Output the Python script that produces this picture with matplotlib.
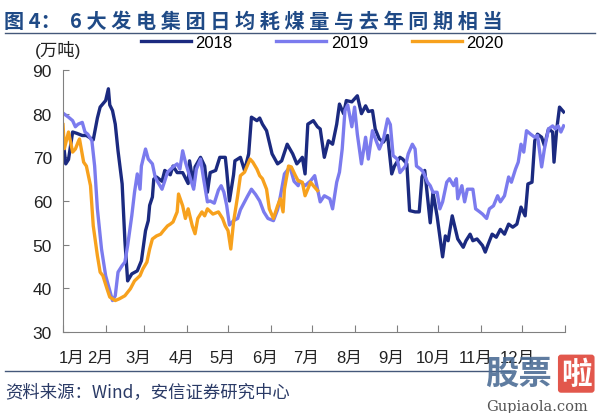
import matplotlib
matplotlib.use("Agg")
import matplotlib.pyplot as plt
from matplotlib.lines import Line2D

plt.rcParams['font.family'] = ['Liberation Sans', 'Noto Sans CJK SC', 'DejaVu Sans']

# ---------------- data (day of year, value in 万吨) ----------------
days_2018 = [0, 2, 4, 7, 10, 14, 17, 22, 25, 27, 31, 33, 34, 36, 38, 40, 43, 45, 47, 50,
             54, 57, 60, 62, 63, 65, 66, 68, 72, 74, 78, 80, 83, 87, 91, 92, 95, 96, 100, 103,
             105, 107, 111, 114, 118, 119, 121, 124, 125, 129, 132, 135, 137, 141, 143, 145, 148, 152, 156, 159,
             163, 167, 170, 172, 174, 176, 178, 182, 185, 187, 190, 193, 196, 199, 201, 204, 206, 210, 214, 217,
             220, 222, 225, 227, 230, 233, 236, 238, 239, 241, 245, 247, 250, 252, 256, 259, 261, 263, 267, 269,
             272, 276, 278, 280, 283, 285, 287, 291, 293, 296, 298, 301, 305, 307, 309, 312, 315, 318, 321, 324,
             327, 330, 333, 336, 338, 341, 343, 345, 348, 350, 353, 356, 357, 359, 361, 364]
vals_2018 = [74, 68.5, 69.5, 75.8, 75.5, 75, 75, 74, 79, 81.5, 83, 85.7, 82, 80.7, 77.6, 71.5, 63.9, 50.9, 41.7, 43.3,
             44, 46.3, 53.2, 55.5, 59, 60.9, 65, 65.5, 64.5, 67, 66, 68, 66.5, 66.5, 64, 69.2, 63.5, 67.8, 70, 68,
             62, 66.5, 67, 70, 70, 67, 60, 66, 69.2, 70, 67, 70.8, 79.2, 78.4, 79, 77.6, 76.1, 70.8, 68.5, 69.2,
             73, 70.8, 68.5, 69.2, 70, 66.2, 77.6, 78.4, 77, 76.5, 70, 73.8, 73, 77.6, 82.2, 80, 83, 82.7, 84.1, 80,
             81.8, 80.5, 80.7, 76.5, 74.2, 73.5, 75, 69.2, 66.2, 68, 70, 69.6, 68.5, 57.8, 57.5, 57.5, 65.5, 67, 55, 62,
             56.5, 47.2, 52, 50.9, 56.6, 54, 51.3, 49.4, 50.9, 52.4, 50.9, 51.3, 49.8, 48.3, 50, 52.4, 51.7, 53.5, 52.4, 54.7,
             54, 54.7, 58.6, 56.6, 63.9, 64.3, 73.8, 75.3, 74.6, 72.7, 76.5, 75.8, 68.9, 76.5, 81.5, 80.4]

days_2019 = [1, 4, 7, 9, 11, 14, 16, 18, 21, 23, 25, 28, 31, 33, 36, 38, 40, 43, 45, 47,
             50, 52, 54, 56, 57, 60, 62, 65, 67, 69, 72, 74, 76, 80, 83, 85, 87, 89, 92, 95,
             97, 100, 102, 105, 107, 110, 113, 115, 117, 119, 121, 124, 127, 129, 134, 137, 140, 143, 146, 149,
             153, 156, 158, 161, 165, 168, 171, 172, 176, 180, 183, 187, 190, 194, 196, 199, 201, 203, 205, 207,
             210, 212, 214, 217, 220, 222, 225, 228, 230, 233, 236, 238, 240, 243, 245, 249, 251, 254, 256, 257,
             260, 262, 265, 267, 269, 272, 274, 276, 279, 281, 284, 286, 287, 290, 292, 294, 298, 300, 303, 305,
             308, 310, 313, 316, 318, 321, 324, 326, 329, 331, 333, 335, 337, 340, 343, 345, 348, 350, 353, 356,
             358, 360, 362, 364]
vals_2019 = [79.9, 79.2, 78.4, 77, 77.6, 78, 75.8, 75.3, 73.8, 68, 58.2, 49, 42.9, 40.6, 37.2, 38.3, 43.7, 45.2, 46, 49.8,
             56.6, 62, 66.2, 62.7, 68, 71.9, 69.6, 68.5, 65.5, 64.3, 62.7, 64.6, 66.6, 67.8, 68.5, 67.3, 71.5, 68.9, 65.8, 62.7,
             67.3, 69.6, 65.5, 59.8, 60, 59.5, 62.5, 63.5, 62, 59, 54.5, 55.5, 56, 58, 61, 62.7, 61.5, 60, 57.5, 56,
             55.5, 58, 61, 66.2, 67.8, 64.5, 63.5, 64.6, 63.5, 64.6, 65.8, 59.8, 61.2, 60.5, 58.2, 64.3, 66.6, 71.9, 80.7, 82,
             77, 81.5, 75.3, 68.5, 74.6, 69.6, 76.1, 73.5, 71.9, 74.2, 78.8, 77.5, 70.4, 69.6, 66.5, 68, 70.8, 73, 71.9, 68,
             67.3, 66.6, 64.3, 63.5, 62, 62, 58.2, 59.8, 64.3, 65.1, 63.5, 65.1, 60.5, 63.5, 59.8, 62.7, 62.7, 58.2, 57.5, 57,
             56, 58.2, 58.9, 61.2, 59.8, 61.2, 65.5, 64.3, 67.3, 68.9, 73, 71.2, 76.1, 75.3, 74.6, 75, 67.8, 71.9, 76.5, 77.2,
             76.5, 77.2, 75.8, 77.2]

days_2020 = [0, 1, 4, 7, 9, 11, 12, 15, 17, 20, 22, 25, 27, 29, 32, 34, 38, 41, 45, 49,
             52, 56, 58, 61, 63, 65, 68, 71, 73, 76, 78, 80, 83, 84, 87, 89, 91, 94, 96, 98,
             101, 103, 105, 109, 113, 116, 118, 120, 122, 124, 127, 129, 132, 136, 138, 141, 143, 145, 148, 150,
             153, 156, 158, 160, 161, 164, 166, 169, 171, 174, 176, 180, 182, 185]
vals_2020 = [77.5, 72, 75.8, 71.2, 71.9, 73.5, 74.2, 68.9, 68, 63.5, 54.3, 47.5, 43.7, 42.9, 39.9, 38, 37.2, 37.6, 38.3, 39.9,
             41.7, 42.9, 44.4, 46, 49, 51.3, 52, 52.4, 53.2, 54.3, 54.7, 55.2, 57.5, 61.6, 58.9, 56, 58.2, 54.3, 52.5, 56,
             57.5, 56.6, 58.2, 57, 57.5, 56, 54.3, 53.2, 49, 55.2, 61.2, 65.8, 66.6, 69.6, 68.9, 67.3, 65.8, 65.1, 62.7, 58.2,
             56, 58.9, 60.5, 57.5, 62.7, 68, 67.8, 65.8, 64.6, 64.3, 61.2, 64.3, 63.5, 62.4]

series_names = ['2018', '2019', '2020']
month_labels = ['1月', '2月', '3月', '4月', '5月', '6月', '7月', '8月', '9月', '10月', '11月', '12月']
month_starts = [0, 31, 59, 90, 120, 151, 181, 212, 243, 273, 304, 334, 365]
y_ticks = [30, 40, 50, 60, 70, 80, 90]
title_text = '图 4：  6 大 发 电 集 团 日 均 耗 煤 量 与 去 年 同 期 相 当'
source_text = '资料来源：Wind，安信证券研究中心'
unit_text = '(万吨)'

# ---------------- styling ----------------
c2018 = '#1b2a80'
c2019 = '#7b7bee'
c2020 = '#f7a11d'
title_color = '#1f4a86'

fig = plt.figure(figsize=(6.0, 4.14), dpi=100)
ax = fig.add_axes([0.105, 0.1957, 0.8367, 0.6328])

ax.plot(days_2018, vals_2018, color=c2018, lw=2.4, label=series_names[0], solid_joinstyle='round')
ax.plot(days_2019, vals_2019, color=c2019, lw=2.4, label=series_names[1], solid_joinstyle='round')
ax.plot(days_2020, vals_2020, color=c2020, lw=2.4, label=series_names[2], solid_joinstyle='round')

ax.set_xlim(0, 365)
ax.set_ylim(30, 90)
ax.set_yticks(y_ticks)
ax.set_yticklabels([str(v) for v in y_ticks], fontsize=12.5, color='#222222')
ax.set_xticks(month_starts)
ax.set_xticklabels([])
label_pos = [max(s - 4, 6) for s in month_starts[:12]]
ax.set_xticks(label_pos, minor=True)
ax.set_xticklabels(month_labels, minor=True, fontsize=12, color='#222222')
ax.tick_params(axis='x', which='minor', length=0, pad=13)
ax.tick_params(axis='x', which='major', direction='in', length=5, color='#808080', width=0.8)
ax.tick_params(axis='y', direction='in', length=4, color='#808080', width=0.8, pad=8)
for s in ['top', 'right']:
    ax.spines[s].set_visible(False)
for s in ['left', 'bottom']:
    ax.spines[s].set_color('#808080')
    ax.spines[s].set_linewidth(0.8)

# legend
fig.legend(loc='center', bbox_to_anchor=(0.537, 0.896), ncol=3, frameon=False,
           fontsize=12, handlelength=3.0, handletextpad=0.3, columnspacing=2.6)

# title and rules
fig.text(0.006, 0.975, title_text, fontsize=14.5, fontweight='bold',
         color=title_color, va='top', ha='left', family=['Noto Sans CJK SC', 'DejaVu Sans'])
fig.add_artist(Line2D([0.008, 0.992], [0.918, 0.918], color='#44587a', lw=1.0))
fig.text(0.058, 0.879, unit_text, fontsize=12.5, color='#222222', va='center', ha='left',
         family=['Liberation Sans', 'Noto Sans CJK SC'])
fig.add_artist(Line2D([0.008, 0.85], [0.101, 0.101], color='#44587a', lw=1.0))
fig.text(0.008, 0.053, source_text, fontsize=12.5, style='italic', color='#2a3a66',
         va='center', ha='left', family=['Noto Sans CJK SC', 'DejaVu Sans'])

# watermark
fig.text(0.808, 0.095, '股票', fontsize=24, fontweight='bold', color='#4d6e96', alpha=0.9,
         va='center', ha='left', family=['Noto Sans CJK SC'])
fig.text(0.935, 0.095, '啦', fontsize=22, fontweight='bold', color='white', va='center', ha='left',
         family=['Noto Sans CJK SC'],
         bbox=dict(boxstyle='round,pad=0.1', fc='#e2574c', ec='none'))
fig.text(0.81, 0.018, 'Gupiaola.com', fontsize=10.5, color='#555555', va='center', ha='left',
         family=['DejaVu Serif'])

fig.savefig('out.png', dpi=100)
